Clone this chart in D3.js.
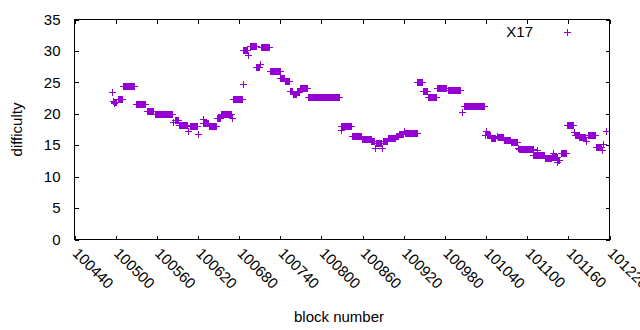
<!DOCTYPE html>
<html>
<head>
<meta charset="utf-8">
<script src="https://cdn.jsdelivr.net/npm/d3@7"></script>
<style>
  html, body { margin: 0; padding: 0; background: #fff; }
  svg { display: block; }
  text { font-family: "Liberation Sans", Arial, sans-serif; fill: #000; }
</style>
</head>
<body>
<svg id="chart" width="640" height="330"></svg>
<script>
// ---- data (runs of consecutive blocks with the same difficulty) ----
const runStart = [100495,100496,100497,100498,100503,100511,100529,100545,100557,100584,100586,100592,100606,100609,100620,100627,100628,100636,100648,100654,100669,100671,100685,100686,100693,100696,100705,100710,100712,100725,100740,100747,100754,100758,100764,100769,100781,100828,100829,100844,100859,100873,100878,100879,100888,100890,100897,100908,100913,100921,100922,100940,100948,100956,100969,100984,101005,101008,101039,101040,101041,101047,101056,101057,101066,101076,101087,101088,101109,101114,101115,101126,101136,101138,101139,101144,101145,101149,101158,101168,101169,101176,101186,101189,101200,101209,101211,101215];
const runEnd   = [100495,100496,100497,100501,100509,100527,100543,100555,100582,100584,100591,100604,100606,100619,100620,100627,100635,100647,100652,100668,100669,100684,100685,100691,100693,100704,100709,100710,100724,100739,100746,100753,100757,100763,100767,100779,100826,100828,100843,100858,100872,100877,100878,100887,100888,100896,100907,100912,100919,100921,100939,100947,100954,100967,100982,101002,101005,101037,101039,101040,101046,101053,101056,101065,101075,101085,101087,101108,101113,101114,101125,101135,101137,101138,101143,101144,101146,101156,101167,101168,101175,101185,101186,101199,101207,101209,101211,101215];
const runDifficulty = [23.4,22.0,21.7,21.9,22.35,24.45,21.6,20.5,20.0,18.7,19.0,18.25,17.2,18.0,16.8,19.2,18.55,18.1,19.3,20.0,19.4,22.4,24.7,30.2,29.3,30.85,27.4,27.9,30.7,26.8,25.7,25.2,23.7,23.1,23.4,24.1,22.65,17.45,18.05,16.4,16.0,15.6,14.6,15.3,14.6,15.6,16.1,16.5,16.8,17.3,16.95,25.1,23.6,22.7,24.1,23.8,20.25,21.25,16.6,17.2,16.7,16.2,16.5,16.3,15.9,15.5,14.6,14.45,13.5,14.2,13.5,12.95,13.2,13.7,13.2,12.3,12.7,13.75,18.25,17.1,16.6,16.3,15.6,16.7,14.7,14.2,15.2,17.2];

const xTicks = [100440,100500,100560,100620,100680,100740,100800,100860,100920,100980,101040,101100,101160,101220];
const yTicks = [0,5,10,15,20,25,30,35];
const seriesName = "X17";
const xLabel = "block number";
const yLabel = "difficulty";

(function () {
// expand runs into one point per block
const points = [];
runStart.forEach((s, i) => {
  for (let b = s; b <= runEnd[i]; b++) points.push({block: b, difficulty: runDifficulty[i]});
});

// ---- layout ----
const color = "#9400d3";
const mLeft = 74.5, mRight = 609.5, mTop = 19.5, mBottom = 239.5;
const svg = d3.select("#chart");

const x = d3.scaleLinear().domain([100440, 101220]).range([mLeft, mRight]);
const y = d3.scaleLinear().domain([0, 35]).range([mBottom, mTop]);

const tickLen = 4;

svg.append("g").attr("transform", `translate(0,${mBottom})`)
  .call(d3.axisBottom(x).tickValues(xTicks).tickSize(-tickLen).tickFormat(""));
svg.append("g").attr("transform", `translate(0,${mTop})`)
  .call(d3.axisTop(x).tickValues(xTicks).tickSize(-tickLen).tickFormat(""));
svg.append("g").attr("transform", `translate(${mLeft},0)`)
  .call(d3.axisLeft(y).tickValues(yTicks).tickSize(-tickLen).tickFormat(""));
svg.append("g").attr("transform", `translate(${mRight},0)`)
  .call(d3.axisRight(y).tickValues(yTicks).tickSize(-tickLen).tickFormat(""));

svg.selectAll(".domain").remove();
svg.selectAll(".tick line").attr("stroke", "#000").attr("stroke-width", 1).attr("shape-rendering", "crispEdges");

svg.append("rect")
  .attr("x", mLeft).attr("y", mTop)
  .attr("width", mRight - mLeft).attr("height", mBottom - mTop)
  .attr("fill", "none").attr("stroke", "#000").attr("stroke-width", 1)
  .attr("shape-rendering", "crispEdges");

svg.append("g").selectAll("text").data(yTicks).join("text")
  .attr("x", mLeft - 14).attr("y", d => y(d))
  .attr("dy", "0.35em")
  .attr("text-anchor", "end")
  .style("font-size", "15px")
  .text(d => d);

svg.append("g").selectAll("text").data(xTicks).join("text")
  .attr("transform", d => `translate(${x(d) + 1},${mBottom + 11}) rotate(45)`)
  .attr("dy", "0.35em")
  .attr("text-anchor", "start")
  .style("font-size", "15px")
  .text(d => d);

svg.append("text")
  .attr("x", 339).attr("y", 322)
  .attr("text-anchor", "middle")
  .style("font-size", "15px")
  .text(xLabel);

svg.append("text")
  .attr("transform", `translate(22,${(mTop + mBottom) / 2}) rotate(-90)`)
  .attr("text-anchor", "middle")
  .style("font-size", "15px")
  .text(yLabel);

const arm = 3.5;
const plus = (cx, cy) => {
  const px = Math.round(cx) + 0.5, py = Math.round(cy) + 0.5;
  return `M${px - arm},${py}H${px + arm}M${px},${py - arm}V${py + arm}`;
};
svg.append("g").selectAll("path").data(points).join("path")
  .attr("d", d => plus(x(d.block), y(d.difficulty)))
  .attr("stroke", color).attr("stroke-width", 1).attr("fill", "none")
  .attr("shape-rendering", "crispEdges");

svg.append("text")
  .attr("x", 533).attr("y", 37)
  .attr("text-anchor", "end")
  .style("font-size", "15px")
  .text(seriesName);
svg.append("path")
  .attr("d", plus(567, 32))
  .attr("stroke", color).attr("stroke-width", 1).attr("fill", "none")
  .attr("shape-rendering", "crispEdges");
})();
</script>
</body>
</html>
